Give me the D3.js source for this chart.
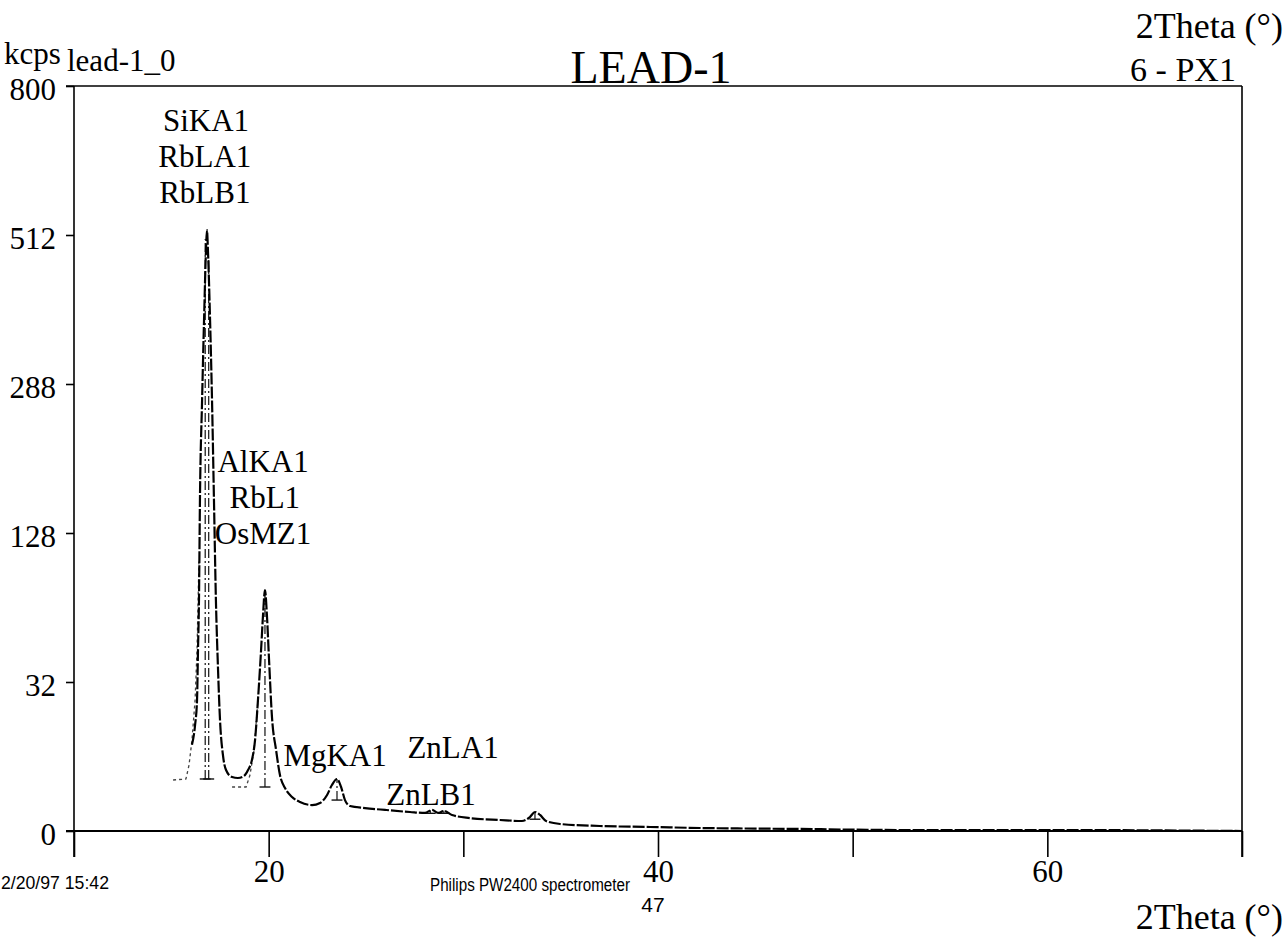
<!DOCTYPE html>
<html><head><meta charset="utf-8">
<script src="https://cdn.jsdelivr.net/npm/d3@7"></script>
<style>
body{margin:0;background:#fff}
svg{display:block;background:#fff}
text{font-family:"Liberation Serif","Times New Roman",serif;fill:#000}
</style>
</head><body>
<svg id="c" width="1285" height="944"></svg>
<script>
// ---- data (2Theta in degrees, intensity in kcps) ----
const twoTheta = [16.06,16.22,16.32,16.37,16.42,16.47,16.58,16.68,16.78,16.83,16.88,16.99,17.09,17.19,17.29,17.40,17.50,17.65,17.81,18.12,18.42,18.73,18.94,19.14,19.30,19.45,19.61,19.71,19.81,19.91,20.02,20.17,20.38,20.58,20.84,21.20,21.61,22.23,22.64,23.00,23.25,23.51,23.72,23.92,24.18,24.95,25.98,27.26,28.03,28.39,28.70,29.01,29.42,30.34,31.88,33.01,33.42,33.68,33.94,34.25,34.97,37.02,39.59,42.16,47.29,52.43,60.14,70.0];
const kcps = [10.7,16.2,24.7,47.2,76.9,157.9,267.7,376,486.5,520.6,486.5,376,267.7,157.9,76.9,37.4,17.8,8.33,5.36,4.2,4.05,4.36,5.36,7.27,11.9,24.7,47.2,67.2,83.7,67.2,42.1,18.7,9.46,4.52,2.66,1.67,1.21,0.97,1.13,1.87,3.05,3.9,2.79,1.38,0.9,0.76,0.64,0.52,0.47,0.64,0.47,0.58,0.37,0.24,0.174,0.144,0.28,0.52,0.37,0.144,0.071,0.036,0.023,0.013,0.006,0.0014,0.0014,0];
// fitted profile (dotted), NaN = gap
const fitTheta = [15.09,15.75,15.91,16.06,16.22,16.32,16.42,NaN,18.12,18.84,19.04,19.25,19.45];
const fitKcps  = [3.75,3.9,6.28,11.9,24.7,47.2,105.8,NaN,2.79,2.79,4.52,9.46,24.7];
// line markers
const lineTheta = [16.74,16.92,19.81,23.51,28.30,29.00,33.68];
const lineBase  = [3.9,3.9,2.79,1.38,0.45,0.45,0.2];
const lineTop   = [505,470,83,3.9,0.62,0.6,0.5];
// peak labels (stacked: row = line within the stack)
const labelText  = ["SiKA1","RbLA1","RbLB1","AlKA1","RbL1","OsMZ1","MgKA1","ZnLA1","ZnLB1"];
const labelTheta = [16.78,16.72,16.72,19.71,19.8,19.71,23.41,29.47,28.34];
const labelKcps  = [706,706,706,186,186,186,6.09,7.68,0.974];
const labelRow   = [0,1,2,0,1,2,0,0,0];
// axes
const yTicks = [0,32,128,288,512,800];
const xTicks = [10,20,30,40,50,60,70];
const xTickLabels = [20,40,60];

// ---- layout ----
const svg = d3.select("#c");
const L=74, R=1242, T=86, B=831, ROW=36;
const x = d3.scaleLinear().domain([10,70]).range([L,R]);
const y = d3.scaleSqrt().domain([0,800]).range([B,T]);

// frame
svg.append("line").attr("x1",66).attr("x2",R).attr("y1",T).attr("y2",T).attr("stroke","#000").attr("stroke-width",1.6);
svg.append("line").attr("x1",R).attr("x2",R).attr("y1",T).attr("y2",857).attr("stroke","#000").attr("stroke-width",1.6);
svg.append("line").attr("x1",L).attr("x2",L).attr("y1",T).attr("y2",857).attr("stroke","#000").attr("stroke-width",1.6);

// y axis
const ya = svg.append("g").attr("transform",`translate(${L},0)`)
  .call(d3.axisLeft(y).tickValues(yTicks).tickSize(8).tickPadding(10).tickFormat(d3.format("d")));
ya.select(".domain").remove();
ya.selectAll("line").attr("stroke","#000").attr("stroke-width",1.6);
ya.selectAll("text").style("font-family",'"Liberation Serif",serif').style("font-size","31px").attr("dy","0.42em");

// x axis
const xa = svg.append("g").attr("transform",`translate(0,${B})`)
  .call(d3.axisBottom(x).tickValues(xTicks).tickSize(26).tickPadding(3)
    .tickFormat(d=> xTickLabels.includes(d)? d : ""));
xa.select(".domain").attr("d",`M66,0H${R}`).attr("stroke","#000").attr("stroke-width",2.2);
xa.selectAll("line").attr("stroke","#000").attr("stroke-width",1.6);
xa.selectAll("text").style("font-family",'"Liberation Serif",serif').style("font-size","31px");

// fitted dotted profile
const fitPts = fitTheta.map((t,i)=>[t,fitKcps[i]]);
svg.append("path").datum(fitPts)
  .attr("d", d3.line().defined(d=>!isNaN(d[0])).x(d=>x(d[0])).y(d=>y(d[1])))
  .attr("fill","none").attr("stroke","#444").attr("stroke-width",1.3).attr("stroke-dasharray","3,3");

// line markers
const mk = svg.append("g");
lineTheta.forEach((t,i)=>{
  mk.append("line").attr("x1",x(t)).attr("x2",x(t)).attr("y1",y(lineBase[i])).attr("y2",y(lineTop[i]))
    .attr("stroke","#111").attr("stroke-width",1.2).attr("stroke-dasharray","9,3,2,3");
  mk.append("line").attr("x1",x(t-0.28)).attr("x2",x(t+0.28)).attr("y1",y(lineBase[i])).attr("y2",y(lineBase[i]))
    .attr("stroke","#111").attr("stroke-width",1.4);
});

// measured spectrum
const pts = twoTheta.map((t,i)=>[t,kcps[i]]);
svg.append("path").datum(pts)
  .attr("d", d3.line().curve(d3.curveMonotoneX).x(d=>x(d[0])).y(d=>y(d[1])))
  .attr("fill","none").attr("stroke","#000").attr("stroke-width",2.2).attr("stroke-dasharray","12,2");

// peak labels
svg.append("g").selectAll("text").data(labelText).join("text")
  .attr("x",(d,i)=>x(labelTheta[i])).attr("y",(d,i)=>y(labelKcps[i]) + labelRow[i]*ROW)
  .attr("text-anchor","middle").style("font-size","31px").text(d=>d);

// titles and annotations
svg.append("text").attr("x",4).attr("y",64).style("font-size","31px").text("kcps");
svg.append("text").attr("x",67).attr("y",71).style("font-size","31px").text("lead-1_0");
svg.append("text").attr("x",651).attr("y",83).attr("text-anchor","middle").style("font-size","46px").text("LEAD-1");
svg.append("text").attr("x",1283).attr("y",38).attr("text-anchor","end").style("font-size","36px").text("2Theta (°)");
svg.append("text").attr("x",1183).attr("y",81).attr("text-anchor","middle").style("font-size","34px").text("6 - PX1");
svg.append("text").attr("x",1283).attr("y",929).attr("text-anchor","end").style("font-size","36px").text("2Theta (°)");
svg.append("text").attr("transform","translate(1,889) scale(0.93,1)")
  .style("font-family",'"Liberation Sans",Arial,sans-serif').style("font-size","19px").text("2/20/97 15:42");
svg.append("text").attr("transform","translate(430,891) scale(0.8,1)")
  .style("font-family",'"Liberation Sans",Arial,sans-serif').style("font-size","19px").text("Philips PW2400 spectrometer");
svg.append("text").attr("x",653).attr("y",912).attr("text-anchor","middle")
  .style("font-family",'"Liberation Sans",Arial,sans-serif').style("font-size","21px").text("47");
</script>
</body></html>
